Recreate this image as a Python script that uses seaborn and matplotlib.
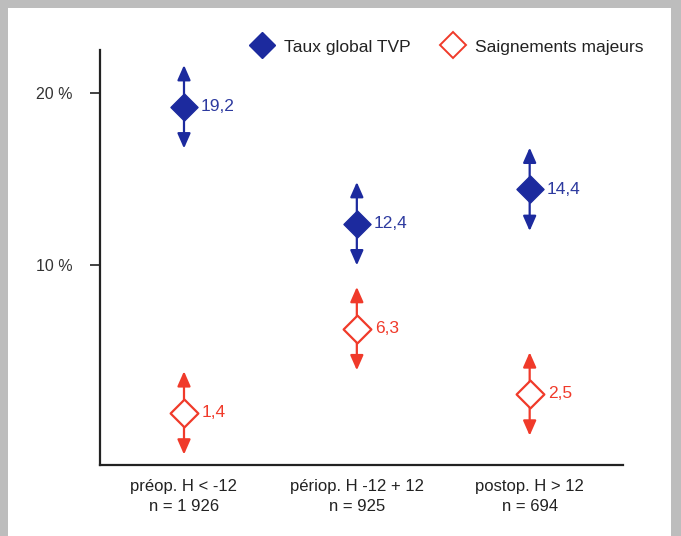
import matplotlib
matplotlib.use("Agg")
import matplotlib.pyplot as plt
from matplotlib.patches import Rectangle
from matplotlib.lines import Line2D
from matplotlib.transforms import offset_copy
import seaborn as sns
import pandas as pd

# ---- data ----
categories = ["préop. H < -12\nn = 1 926",
              "périop. H -12 + 12\nn = 925",
              "postop. H > 12\nn = 694"]
tvp_values = [19.2, 12.4, 14.4]
bleed_values = [1.4, 6.3, 2.5]
tvp_labels = ["19,2", "12,4", "14,4"]
bleed_labels = ["1,4", "6,3", "2,5"]
series_names = ["Taux global TVP", "Saignements majeurs"]
y_ticks = [10, 20]
y_ticklabels = ["10 %", "20 %"]

BLUE = "#1c2a9e"
BLUE_TXT = "#2d3a9f"
RED = "#f03a2a"

sns.set_theme(style="white")
plt.rcParams["font.family"] = ["Liberation Sans", "DejaVu Sans"]

fig = plt.figure(figsize=(6.81, 5.36), dpi=100, facecolor="#bdbdbd")
fig.add_artist(Rectangle((8 / 681, 0), (671 - 8) / 681, (536 - 8) / 536,
                         transform=fig.transFigure, facecolor="white",
                         edgecolor="none", zorder=0))

ax = fig.add_axes([100 / 681, 71 / 536, 523 / 681, 415 / 536])
ax.set_facecolor("none")

df_tvp = pd.DataFrame({"cat": categories, "val": tvp_values})
df_bl = pd.DataFrame({"cat": categories, "val": bleed_values})

sns.scatterplot(data=df_tvp, x="cat", y="val", marker="D", s=190,
                color=BLUE, edgecolor=BLUE, linewidth=1, zorder=5, ax=ax,
                legend=False)
sns.scatterplot(data=df_bl, x="cat", y="val", marker="D", s=200,
                facecolor="white", edgecolor=RED, linewidth=1.6, zorder=5,
                ax=ax, legend=False)

# arrows (CI-like)
arrow_len = 30  # points
up = offset_copy(ax.transData, fig=fig, x=0, y=arrow_len, units="points")
down = offset_copy(ax.transData, fig=fig, x=0, y=-arrow_len, units="points")
for vals, col in ((tvp_values, BLUE), (bleed_values, RED)):
    for i, v in enumerate(vals):
        for tr in (up, down):
            ax.annotate("", xy=(i, v), xycoords=tr, xytext=(i, v),
                        textcoords="data",
                        arrowprops=dict(arrowstyle="-|>,head_length=0.75,head_width=0.33",
                                        color=col, lw=1.6, shrinkA=0, shrinkB=0),
                        zorder=3)

for i, (v, t) in enumerate(zip(tvp_values, tvp_labels)):
    ax.annotate(t, xy=(i, v), xytext=(12, 0), textcoords="offset points",
                ha="left", va="center", color=BLUE_TXT, fontsize=12.5)
for i, (v, t) in enumerate(zip(bleed_values, bleed_labels)):
    ax.annotate(t, xy=(i, v), xytext=(13, 0), textcoords="offset points",
                ha="left", va="center", color=RED, fontsize=12.5)

ax.set_xlim(-0.486, 2.54)
ax.set_ylim(-1.63, 22.5)
ax.set_yticks(y_ticks)
ax.set_yticklabels(y_ticklabels)
ax.set_xlabel("")
ax.set_ylabel("")
ax.tick_params(axis="y", length=7, width=1.2, color="#222222", pad=13,
               labelsize=11.5, labelcolor="#333333", left=True)
ax.tick_params(axis="x", length=0, pad=10, labelsize=12, labelcolor="#222222")
for lbl in ax.get_xticklabels():
    lbl.set_linespacing(1.4)
for s in ("top", "right"):
    ax.spines[s].set_visible(False)
for s in ("left", "bottom"):
    ax.spines[s].set_color("#222222")
    ax.spines[s].set_linewidth(1.6)

handles = [Line2D([], [], marker="D", linestyle="none", markersize=13,
                  markerfacecolor=BLUE, markeredgecolor=BLUE),
           Line2D([], [], marker="D", linestyle="none", markersize=13.5,
                  markerfacecolor="white", markeredgecolor=RED, markeredgewidth=1.4)]
fig.legend(handles, series_names, loc="center", bbox_to_anchor=(444 / 681, 1 - 47 / 536),
           ncol=2, frameon=False, fontsize=12.5, handletextpad=0.27,
           columnspacing=1.4, labelcolor="#222222")

fig.savefig("out.png", dpi=100, facecolor=fig.get_facecolor())
